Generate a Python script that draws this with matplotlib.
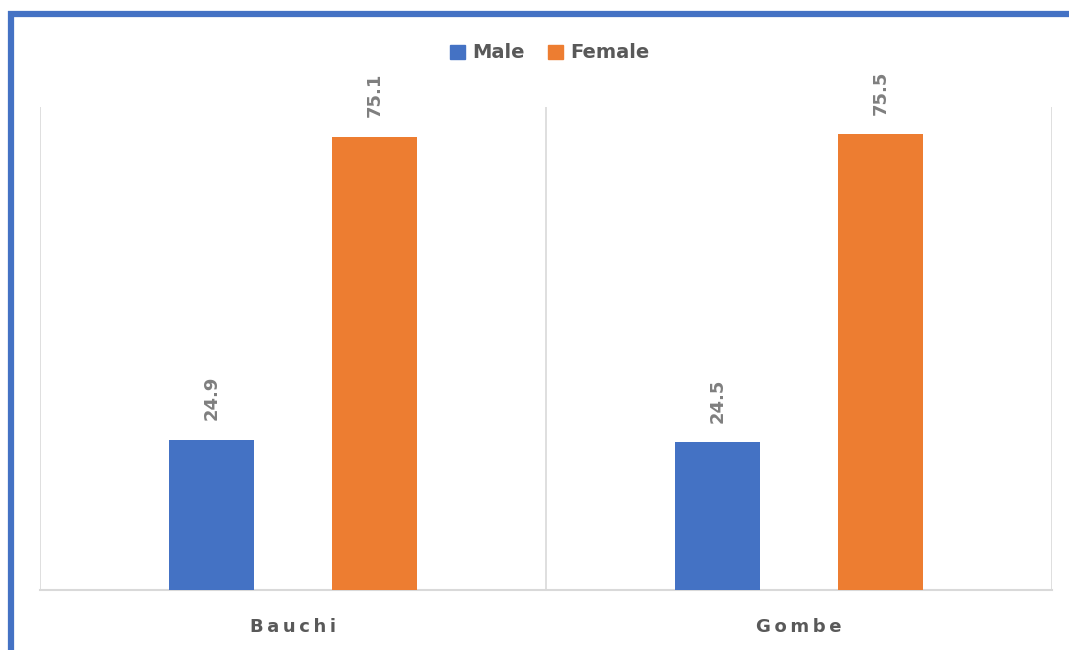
import matplotlib.pyplot as plt
import numpy as np
from matplotlib.lines import Line2D
from matplotlib.patches import Patch

# Data
states = ["Bauchi", "Gombe"]
male = [24.9, 24.5]
female = [75.1, 75.5]

blue = "#4472C4"
orange = "#ED7D31"
grid_col = "#D9D9D9"
text_col = "#595959"
label_col = "#7F7F7F"

fig = plt.figure(figsize=(10.69, 6.5), dpi=100)
ax = fig.add_axes([40 / 1069, 60 / 650, 1012 / 1069, 483 / 650])

x = np.arange(len(states))
width = 0.168
offset = 0.161

bars_m = ax.bar(x - offset, male, width, color=blue, zorder=3)
bars_f = ax.bar(x + offset, female, width, color=orange, zorder=3)

# Rotated value labels above bars
for bars, vals in [(bars_m, male), (bars_f, female)]:
    for b, v in zip(bars, vals):
        ax.annotate(f"{v:.1f}", (b.get_x() + b.get_width() / 2, b.get_height()),
                    xytext=(0, 14), textcoords="offset points",
                    rotation=90, ha="center", va="bottom",
                    fontsize=13, fontweight="bold", color=label_col)

ax.set_xlim(-0.5, len(states) - 0.5)
ax.set_ylim(0, 80)

# Category separators
for xv in np.arange(-0.5, len(states), 1.0):
    ax.axvline(xv, color=grid_col, linewidth=1.2, zorder=1)

for s in ["top", "right", "left"]:
    ax.spines[s].set_visible(False)
ax.spines["bottom"].set_color(grid_col)
ax.spines["bottom"].set_linewidth(1.5)

ax.set_yticks([])
ax.set_xticks(x)
ax.set_xticklabels(["\u2009".join(s) for s in states], fontsize=13,
                   fontweight="bold", color=text_col)
ax.tick_params(axis="x", length=0, pad=20)

handles = [Patch(color=blue, label="Male"), Patch(color=orange, label="Female")]
fig.legend(handles=handles, loc="center", bbox_to_anchor=(550 / 1069, 1 - 53 / 650),
           ncol=2, frameon=False, handlelength=0.75, handleheight=0.75,
           handletextpad=0.4, columnspacing=1.2,
           prop={"size": 14, "weight": "bold"}, labelcolor=text_col)

# Blue frame (only top and left edges visible)
fig.add_artist(Line2D([11 / 1069, 11 / 1069], [0, 1 - 11 / 650],
                      transform=fig.transFigure, color=blue, linewidth=4.5,
                      solid_capstyle="butt"))
fig.add_artist(Line2D([8 / 1069, 1], [1 - 14 / 650, 1 - 14 / 650],
                      transform=fig.transFigure, color=blue, linewidth=4.5,
                      solid_capstyle="butt"))

fig.savefig("out.png", dpi=100)
